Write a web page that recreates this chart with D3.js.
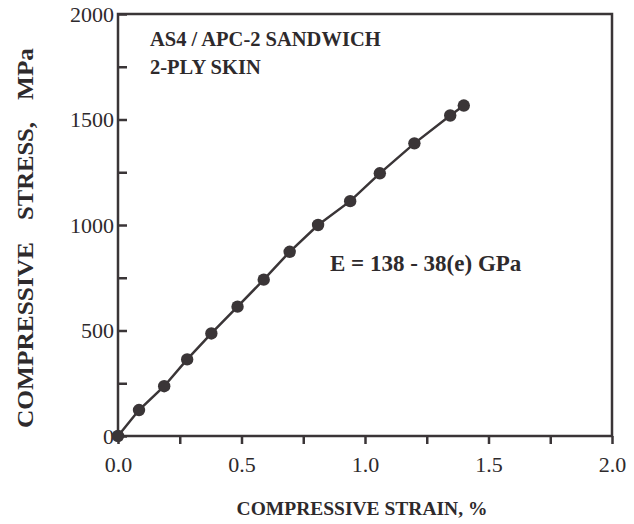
<!DOCTYPE html>
<html>
<head>
<meta charset="utf-8">
<script src="https://cdn.jsdelivr.net/npm/d3@7"></script>
<style>
    body { margin: 0; background: #fff; }
    text { font-family: "Liberation Serif", "DejaVu Serif", serif; fill: #2e2a2c; }
</style>
</head>
<body>
<div id="chart"></div>
<script>
// Values.
const strainValues = [0, 0.085, 0.187, 0.28, 0.378, 0.484, 0.59, 0.695, 0.81, 0.94, 1.06, 1.2, 1.345, 1.40];
const stressValues = [0, 123, 236, 363, 486, 613, 741, 873, 1000, 1113, 1245, 1387, 1519, 1566];
const xTickLabels = ["0.0", "0.5", "1.0", "1.5", "2.0"];
const yTickLabels = ["0", "500", "1000", "1500", "2000"];
const yTitleWords = ["COMPRESSIVE", "STRESS,", "MPa"];
const annotationLines = ["AS4 / APC-2 SANDWICH", "2-PLY SKIN"];
const modulusLabel = "E = 138 - 38(e) GPa";

const ink = "#3a3537";
const margin = { top: 14, right: 22, bottom: 88, left: 118 };
const widthWithMargin = 634;
const heightWithMargin = 524;
const width = widthWithMargin - margin.left - margin.right;
const height = heightWithMargin - margin.top - margin.bottom;

const svg = d3.select("#chart").append("svg")
    .attr("width", widthWithMargin)
    .attr("height", heightWithMargin);

const g = svg.append("g")
    .attr("transform", `translate(${margin.left},${margin.top})`);

let xScale = d3.scaleLinear().domain([0, 2]).range([0, width]);
let yScale = d3.scaleLinear().domain([0, 2000]).range([height, 0]);

// Frame
g.append("rect")
    .attr("width", width)
    .attr("height", height)
    .attr("fill", "none")
    .attr("stroke", ink)
    .attr("stroke-width", 2.5);

// x axis: ticks point outward every 0.25, labels every 0.5
const xAxis = g.append("g")
    .attr("transform", `translate(0,${height})`)
    .call(d3.axisBottom(xScale)
        .tickValues(d3.range(0, 2.01, 0.25))
        .tickSize(8)
        .tickFormat(d => (Math.abs(d * 2 - Math.round(d * 2)) < 1e-6) ? xTickLabels[Math.round(d * 2)] : ""));
xAxis.select(".domain").remove();
xAxis.selectAll(".tick line").attr("stroke", ink).attr("stroke-width", 2.5);
xAxis.selectAll(".tick text")
    .attr("font-size", 22)
    .attr("dy", "0.75em")
    .attr("y", 19)
    .attr("fill", "#4a4547");

// y axis: ticks point inward every 250, labels every 500
const yAxis = g.append("g")
    .call(d3.axisLeft(yScale)
        .tickValues(d3.range(0, 2001, 250))
        .tickSize(-9)
        .tickFormat(d => d % 500 === 0 ? yTickLabels[d / 500] : ""));
yAxis.select(".domain").remove();
yAxis.selectAll(".tick line").attr("stroke", ink).attr("stroke-width", 2.5);
yAxis.selectAll(".tick text")
    .attr("font-size", 22)
    .attr("x", -4)
    .attr("fill", "#4a4547");

// Axis titles
svg.append("text")
    .attr("text-anchor", "middle")
    .attr("x", 362)
    .attr("y", 515)
    .attr("font-size", 19.5)
    .attr("font-weight", "bold")
    .text("COMPRESSIVE STRAIN, %");

// y title: three words, spread along the axis as in the original
const yTitleStart = [428, 220, 100];
const yTitleLength = [186, 98, 52];
svg.append("g")
    .attr("transform", "translate(33,0) rotate(-90)")
    .selectAll("text")
    .data(yTitleWords)
    .enter()
    .append("text")
    .attr("x", (d, i) => -yTitleStart[i])
    .attr("y", 0)
    .attr("font-size", 24)
    .attr("font-weight", "bold")
    .attr("fill", "#4a4547")
    .attr("textLength", (d, i) => yTitleLength[i])
    .attr("lengthAdjust", "spacingAndGlyphs")
    .text(d => d);

// Data line and markers
const data = strainValues.map((s, i) => ({ strain: s, stress: stressValues[i] }));

g.append("path")
    .datum(data)
    .attr("fill", "none")
    .attr("stroke", ink)
    .attr("stroke-width", 2.5)
    .attr("d", d3.line().x(d => xScale(d.strain)).y(d => yScale(d.stress)));

g.append("g")
    .selectAll("circle")
    .data(data)
    .enter()
    .append("circle")
    .attr("cx", d => xScale(d.strain))
    .attr("cy", d => yScale(d.stress))
    .attr("r", 6.2)
    .attr("fill", ink);

// Annotations
g.append("g")
    .selectAll("text")
    .data(annotationLines)
    .enter()
    .append("text")
    .attr("x", 32)
    .attr("y", (d, i) => 32 + i * 28)
    .attr("font-size", 20.5)
    .attr("font-weight", "bold")
    .text(d => d);

g.append("text")
    .attr("x", 212)
    .attr("y", 257)
    .attr("font-size", 23)
    .attr("font-weight", "bold")
    .text(modulusLabel);
</script>
</body>
</html>
